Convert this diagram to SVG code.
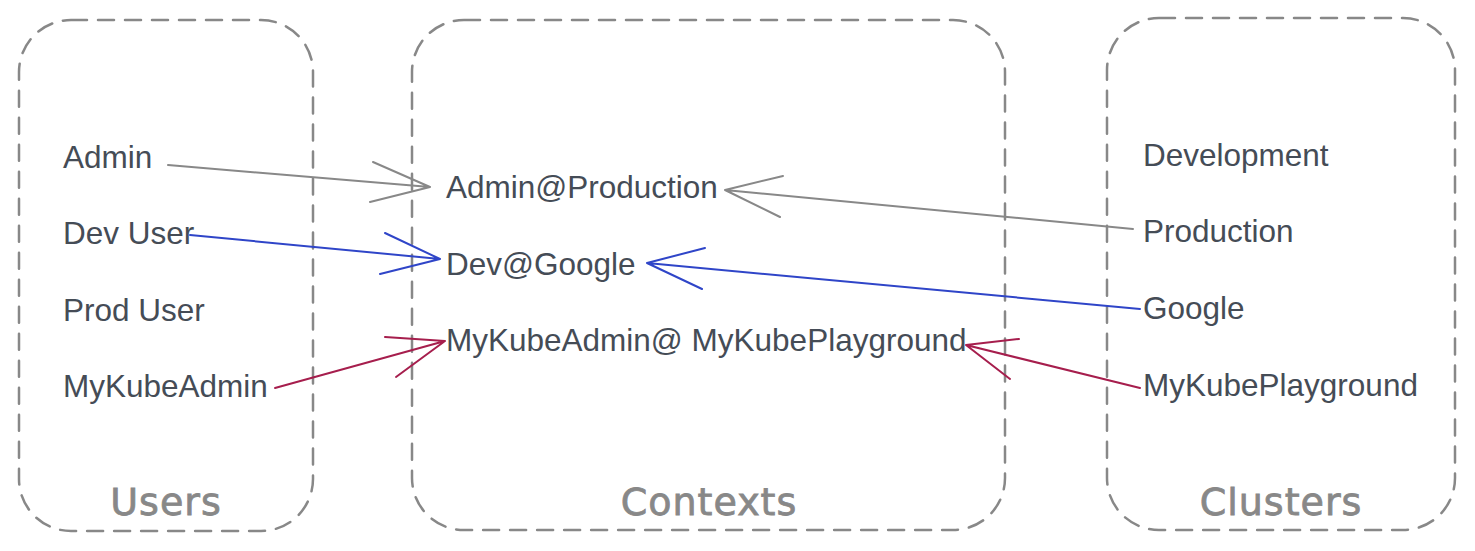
<svg xmlns="http://www.w3.org/2000/svg" width="1475" height="551" viewBox="0 0 1475 551">
<style>
.box{fill:none;stroke:#888888;stroke-width:2.5;stroke-dasharray:16 11;stroke-linecap:round}
.t{font-family:"Liberation Sans",Arial,sans-serif;font-size:31.5px;fill:#454c56}
.lbl{font-family:"Comic Sans MS","DejaVu Sans",sans-serif;font-size:38px;fill:#888888;stroke:#888888;stroke-width:0.8;letter-spacing:1px}
.c{fill:none;stroke-width:2;stroke-linecap:round;stroke-linejoin:round}
.g{stroke:#888888}.b{stroke:#2f45c8}.r{stroke:#a61e4d}
</style>
<rect width="1475" height="551" fill="#ffffff"/>
<g id="users">
<rect class="box" x="19" y="20" width="294" height="511" rx="52"/>
<text class="lbl" x="166" y="515" text-anchor="middle">Users</text>
</g>
<g id="contexts">
<rect class="box" x="412" y="20" width="593" height="510" rx="52"/>
<text class="lbl" x="709" y="515" text-anchor="middle">Contexts</text>
</g>
<g id="clusters">
<rect class="box" x="1107" y="18" width="348" height="512" rx="52"/>
<text class="lbl" x="1281" y="515" text-anchor="middle">Clusters</text>
</g>
<g id="user-admin"><text class="t" x="63" y="168">Admin</text></g>
<g id="user-dev"><text class="t" x="63" y="244">Dev User</text></g>
<g id="user-prod"><text class="t" x="63" y="321">Prod User</text></g>
<g id="user-mykube"><text class="t" x="63" y="397">MyKubeAdmin</text></g>
<g id="ctx-admin-prod"><text class="t" x="446" y="198">Admin@Production</text></g>
<g id="ctx-dev-google"><text class="t" x="446" y="275">Dev@Google</text></g>
<g id="ctx-mykube"><text class="t" x="446" y="351">MyKubeAdmin@ MyKubePlayground</text></g>
<g id="cl-dev"><text class="t" x="1143" y="166">Development</text></g>
<g id="cl-prod"><text class="t" x="1143" y="242">Production</text></g>
<g id="cl-google"><text class="t" x="1143" y="319">Google</text></g>
<g id="cl-mykube"><text class="t" x="1143" y="396">MyKubePlayground</text></g>
<g id="connectors">
<path class="c g" d="M168 165 L430 187 M373 162 L430 187 L370 202"/>
<path class="c g" d="M1133 229 L725 190 M783 176 L725 190 L780 217"/>
<path class="c b" d="M190 235 L440 259 M385 233 L440 259 L380 274"/>
<path class="c b" d="M1140 309 L647 263 M705 248 L647 263 L702 289"/>
<path class="c r" d="M275 388 L445 341 M385 337 L445 341 L396 377"/>
<path class="c r" d="M1140 388 L966 345 M1019 339 L966 345 L1010 379"/>
</g>
</svg>
